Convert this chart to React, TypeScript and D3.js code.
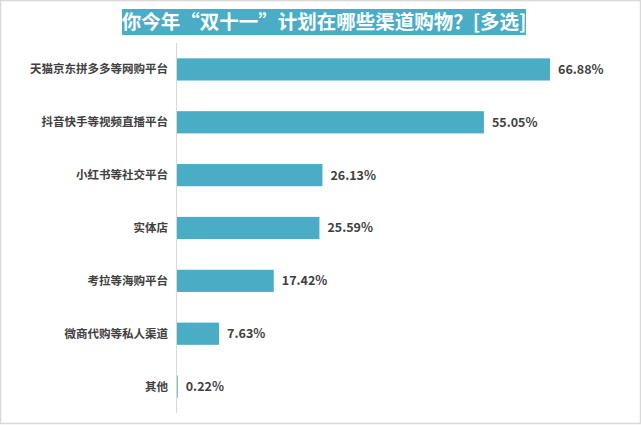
import React from "react";
import * as d3 from "d3";

const categories = ["天猫京东拼多多等网购平台", "抖音快手等视频直播平台", "小红书等社交平台", "实体店", "考拉等海购平台", "微商代购等私人渠道", "其他"];
const values = [66.88, 55.05, 26.13, 25.59, 17.42, 7.63, 0.22];
const title = "你今年“双十一”计划在哪些渠道购物？[多选]";

const W = 641, H = 425;
const FONT = "'Noto Sans CJK SC', 'Open Sans', sans-serif";

export default function App() {
  const x0 = 176.5;
  const x = d3.scaleLinear().domain([0, 66.88]).range([x0, 550]);
  const y = d3.scaleBand<string>().domain(categories).range([43, 413]).paddingInner(0.58).paddingOuter(0.29);
  return (
    <svg width={W} height={H} style={{ position: "absolute", left: 0, top: 0, display: "block" }}>
      <rect x={0.5} y={0.5} width={W - 1} height={H - 2} fill="#fff" stroke="#d9d9d9" strokeWidth={1.5} />
      <rect x={122} y={9} width={404} height={26} fill="#4BACC6" />
      <text x={324} y={29} textAnchor="middle" fill="#fff" fontFamily={FONT} fontWeight="bold" fontSize={19.5}>{title}</text>
      {categories.map((c, i) => (
        <g key={c}>
          <rect x={x0} y={y(c)!} width={Math.max(0, x(values[i]) - x0)} height={y.bandwidth()} fill="#4BACC6" />
          <text x={168} y={y(c)! + y.bandwidth() / 2} dy="0.35em" textAnchor="end" fill="#404040" fontFamily={FONT} fontWeight="bold" fontSize={11.5}>{c}</text>
          <text x={x(values[i]) + 8} y={y(c)! + y.bandwidth() / 2} dy="0.35em" fill="#404040" fontFamily={FONT} fontWeight="bold" fontSize={12.5}>{values[i].toFixed(2) + "%"}</text>
        </g>
      ))}
      <line x1={x0} x2={x0} y1={43} y2={413} stroke="#d9d9d9" strokeWidth={1} />
    </svg>
  );
}
